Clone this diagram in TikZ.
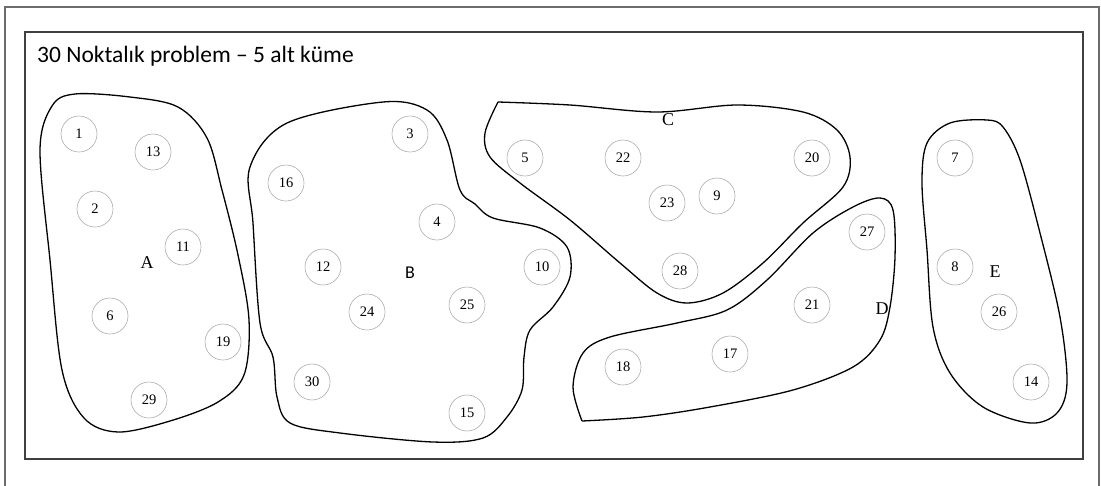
\documentclass[tikz,border=0pt]{standalone}
\usepackage{fontspec}
\setmainfont{Liberation Serif}
\newfontfamily\titlefont{Carlito}
\usetikzlibrary{positioning}
\tikzset{
    % Frames
    outerFrame/.style={draw=gray!85!black, line width=1.6pt},
    innerFrame/.style={draw=black!75, line width=1.3pt},
    % Points and clusters
    pt/.style={circle, draw=gray!65, line width=0.6pt, minimum size=36pt, inner sep=0pt,
               font=\fontsize{14.5}{14.5}\selectfont},
    cluster/.style={draw=black, line width=1.3pt},
    clusterName/.style={inner sep=0pt, font=\fontsize{18}{18}\selectfont},
    title/.style={anchor=base west, inner sep=0pt, font=\titlefont\fontsize{23.5}{23.5}\selectfont}
}
\begin{document}
\begin{tikzpicture}[x=1pt, y=-1pt]
\useasboundingbox (0,0) rectangle (1101,485);

% Frames
\draw[outerFrame] (5,492) -- (5,7) -- (1099,7) -- (1099,492);
\draw[innerFrame] (25,32) rectangle (1083,459);
\node[title] (title) at (37,62) {30 Noktalık problem – 5 alt küme};

% Cluster outlines
\draw[cluster] plot[smooth cycle, tension=0.55] coordinates {(75,94) (130,97) (178,107) (207,138)
    (222,190) (238,255) (249,320) (244,375) (218,402) (170,421) (118,432) (84,418) (62,370)
    (50,260) (40,150) (52,106)};
\draw[cluster] plot[smooth cycle, tension=0.55] coordinates {(250,167) (287,123) (383,102) (427,110)
    (447,140) (460,190) (475,204) (493,218) (540,228) (567,247) (570,277) (553,307) (530,330)
    (524,357) (522,390) (507,417) (483,438) (433,442) (340,433) (290,423) (277,397) (273,357)
    (260,323) (253,223)};
\draw[cluster] plot[smooth, tension=0.55] coordinates {(498,102) (570,105) (657,112) (737,105)
    (803,112) (837,130) (850,157) (843,187) (803,223) (763,263) (723,293) (687,303) (657,293)
    (620,263) (570,220) (520,183) (490,157) (485,133) (498,102)};
\draw[cluster] plot[smooth, tension=0.55] coordinates {(582,421) (573,387) (583,353) (610,337)
    (677,323) (727,310) (767,280) (813,233) (853,207) (880,198) (893,210) (895,257) (890,307)
    (880,340) (853,367) (793,390) (710,407) (643,417) (582,421)};
\draw[cluster] plot[smooth cycle, tension=0.55] coordinates {(987,120) (950,123) (927,143)
    (922,183) (927,250) (933,327) (950,373) (983,407) (1030,423) (1057,413) (1067,383)
    (1060,317) (1040,233) (1020,160) (1003,127)};

% Cluster names
\node[clusterName] (nameA) at (147,263) {A};
\node[clusterName, font=\titlefont\fontsize{18}{18}\selectfont] (nameB) at (410,273) {B};
\node[clusterName] (nameC) at (668,120) {C};
\node[clusterName] (nameD) at (882,309) {D};
\node[clusterName] (nameE) at (995,272) {E};

% Cluster A
\node[pt] (p1) at (79,134) {1};
\node[pt] (p13) at (153,152) {13};
\node[pt] (p2) at (95,209) {2};
\node[pt] (p11) at (183,247) {11};
\node[pt] (p6) at (110,316) {6};
\node[pt] (p19) at (223,342) {19};
\node[pt] (p29) at (149,400) {29};

% Cluster B
\node[pt] (p3) at (410,134) {3};
\node[pt] (p16) at (286,183) {16};
\node[pt] (p4) at (437,222) {4};
\node[pt] (p12) at (323,267) {12};
\node[pt] (p10) at (542,267) {10};
\node[pt] (p25) at (467,305) {25};
\node[pt] (p24) at (367,312) {24};
\node[pt] (p30) at (312,382) {30};
\node[pt] (p15) at (467,413) {15};

% Cluster C
\node[pt] (p5) at (525,158) {5};
\node[pt] (p22) at (623,158) {22};
\node[pt] (p20) at (812,158) {20};
\node[pt] (p23) at (667,203) {23};
\node[pt] (p9) at (717,196) {9};
\node[pt] (p28) at (680,271) {28};

% Cluster D
\node[pt] (p27) at (867,232) {27};
\node[pt] (p21) at (812,305) {21};
\node[pt] (p17) at (730,354) {17};
\node[pt] (p18) at (623,367) {18};

% Cluster E
\node[pt] (p7) at (955,158) {7};
\node[pt] (p8) at (955,267) {8};
\node[pt] (p26) at (999,312) {26};
\node[pt] (p14) at (1031,382) {14};

\end{tikzpicture}
\end{document}
